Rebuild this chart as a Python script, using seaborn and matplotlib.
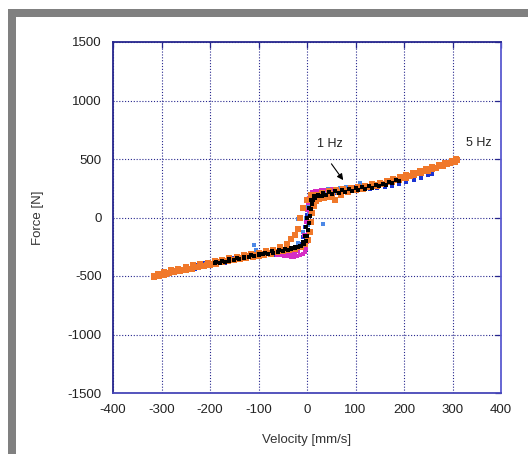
import numpy as np
import pandas as pd
import matplotlib
matplotlib.use('agg')
import matplotlib.pyplot as plt
import seaborn as sns
from matplotlib.patches import Rectangle
from matplotlib.ticker import MultipleLocator

# --- data: velocity [mm/s] and force [N] per test frequency

v_1hz = [-62, -55, -48, -41, -34, -27, -20, -14, -9, -5, -2, 0, 2, 4, 6, 8, 11, 15, 20, 26,
         32, 38, 44, 50, 56, 62, 58, 52, 46, 40, 34, 28, 22, 16, 11, 7, 4, 2, 0, -3,
         -7, -12, -18, -25, -32, -40, -48, -56]
f_1hz = [-318, -322, -326, -330, -334, -334, -330, -322, -310, -295, -265, -210, -130, -40, 50, 130, 185, 212, 224, 228,
         230, 232, 234, 236, 238, 242, 246, 242, 238, 236, 234, 232, 230, 226, 218, 200, 170, 120, 60, -40,
         -150, -240, -285, -300, -305, -308, -312, -316]

v_2hz = [-124, -112, -100, -88, -76, -64, -52, -40, -30, -20, -12, -6, -2, 2, 5, 8, 12, 18, 26, 36,
         48, 60, 72, 84, 96, 108, 120, 124, 116, 104, 92, 80, 68, 56, 44, 32, 22, 14, 8, 3,
         -2, -8, -18, -30, -45, -60, -75, -90, -106, -110, 34, -18, 110]
f_2hz = [-325, -318, -312, -305, -298, -292, -288, -282, -276, -268, -255, -225, -160, -60, 40, 110, 150, 178, 195, 208,
         215, 222, 230, 238, 246, 255, 264, 268, 276, 270, 264, 258, 252, 246, 240, 234, 224, 206, 170, 100,
         0, -120, -220, -262, -280, -288, -296, -305, -278, -235, -55, -15, 295]

v_3hz = [-190, -180, -170, -160, -150, -140, -130, -120, -110, -100, -90, -80, -70, -60, -50, -40, -32, -25, -18, -12,
         -7, -3, 0, 2, 4, 6, 8, 10, 13, 17, 22, 30, 40, 52, 65, 78, 92, 106, 120, 134,
         148, 162, 176, 190, 184, 170, 156, 142, 128, 114, 100, 86, 72, 58, 45, 32, 22, 14, 8, 4,
         1, -2, -5, -9, -15, -24, -34, -46, -58, -72, -86, -100, -115, -130, -145, -160, -175, -188]
f_3hz = [-392, -385, -378, -370, -362, -354, -346, -338, -330, -322, -315, -308, -300, -292, -284, -275, -266, -258, -250, -242,
         -228, -205, -160, -110, -50, 10, 70, 115, 150, 170, 180, 188, 196, 204, 212, 220, 228, 236, 246, 256,
         268, 280, 294, 308, 318, 304, 290, 278, 268, 258, 250, 242, 234, 226, 218, 208, 196, 182, 150, 80,
         0, -80, -160, -210, -240, -255, -264, -272, -280, -290, -300, -310, -322, -334, -346, -358, -372, -384]

v_4hz = [-250, -230, -210, -190, -170, -150, -130, -110, -90, -70, -55, -40, -28, -18, -10, -4, 0, 3, 6, 9,
         13, 19, 28, 40, 55, 70, 85, 100, 115, 130, 145, 160, 175, 190, 205, 220, 235, 250, 258,
         244, 228, 212, 196, 180, 164, 148, 132, 116, 100, 84, 68, 52, 38, 26, 16, 9, 4,
         0, -4, -9, -16, -26, -40, -56, -72, -90, -110, -130, -150, -170, -190, -210, -230, -248]
f_4hz = [-452, -436, -418, -402, -386, -370, -356, -342, -330, -318, -308, -300, -292, -280, -262, -225, -150, -60, 30, 100,
         150, 178, 196, 206, 212, 218, 224, 230, 236, 243, 250, 260, 272, 286, 302, 320, 340, 360, 375,
         398, 378, 358, 340, 322, 306, 292, 280, 268, 258, 250, 242, 234, 226, 214, 200, 170, 110,
         20, -80, -170, -230, -258, -275, -286, -296, -306, -318, -332, -346, -360, -376, -392, -410, -428]

v_5hz = [-315, -305, -295, -285, -275, -262, -250, -238, -225, -212, -200, -188, -175, -162, -150, -138, -125, -112, -100, -88,
         -75, -62, -50, -38, -25, -12, -4, 2, 6, 9, 11, 14, 18, 25, 35, 47, 58, 70, 85, 100,
         115, 130, 145, 160, 175, 190, 205, 220, 235, 250, 265, 280, 295, 305, 310,
         308, 298, 285, 272, 258, 245, 232, 218, 205, 192, 178, 165, 150, 135, 120, 105, 90, 75, 60,
         45, 30, 20, 8, 0, -8, -14, -18, -25, -32, -42, -55, -70, -85, -100, -115, -130, -145, -160,
         -175, -190, -205, -220, -235, -250, -265, -280, -295, -308, -315,
         -310, -300, -290, -280, -268, -256, -244, -232, -218, -206, -194, -182, -168, -156, -144, -132, -118, -106, -94, -82,
         -68, -56, -44, 52, 65, 78, 92, 108, 122, 138, 152, 168, 182, 198, 212, 228, 242, 258, 272, 288, 300]
f_5hz = [-505, -498, -488, -478, -470, -458, -447, -436, -425, -414, -404, -394, -384, -374, -364, -355, -345, -336, -326, -318,
         -308, -298, -290, -280, -268, -250, -230, -190, -120, -40, 40, 100, 140, 158, 165, 175, 150, 195, 215, 232,
         245, 258, 270, 290, 305, 322, 340, 360, 382, 400, 420, 442, 462, 478, 490,
         496, 483, 466, 450, 432, 414, 396, 378, 360, 344, 326, 312, 298, 284, 272, 262, 254, 245, 236,
         226, 212, 195, 190, 150, 80, 0, -100, -150, -185, -225, -255, -275, -290, -300, -312, -324, -335, -348,
         -360, -372, -386, -398, -410, -424, -438, -452, -468, -485, -498,
         -500, -490, -482, -470, -460, -448, -437, -427, -415, -404, -394, -384, -373, -363, -353, -343, -332, -322, -313, -305,
         -296, -288, -280, 200, 215, 228, 240, 252, 264, 276, 290, 305, 322, 340, 358, 378, 398, 418, 438, 458, 474]

# drawing order: first one ends up underneath
series = [
    ('4 Hz', v_4hz, f_4hz, '#1c34d2', 11),
    ('2 Hz', v_2hz, f_2hz, '#4c88e6', 10),
    ('1 Hz', v_1hz, f_1hz, '#d62cc4', 9),
    ('5 Hz', v_5hz, f_5hz, '#f0782a', 13),
    ('3 Hz', v_3hz, f_3hz, '#000000', 7),
]

navy = '#26268e'

sns.set_style('white')
plt.rcParams['font.family'] = ['Liberation Sans', 'DejaVu Sans']
plt.rcParams['axes.unicode_minus'] = False

fig = plt.figure(figsize=(5.28, 4.54), dpi=100)
ax = fig.add_axes([113 / 528, 61 / 454, 388 / 528, 351 / 454])

for name, v, f, col, sz in series:
    df = pd.DataFrame({'Velocity': v, 'Force': f})
    sns.scatterplot(data=df, x='Velocity', y='Force', color=col, marker='s',
                    s=sz, linewidth=0, ax=ax, zorder=3)

ax.set_xlim(-400, 400)
ax.set_ylim(-1500, 1500)
ax.xaxis.set_major_locator(MultipleLocator(100))
ax.yaxis.set_major_locator(MultipleLocator(500))

ax.set_axisbelow(True)
ax.grid(True, color=navy, linestyle=(0, (1, 1.6)), linewidth=0.8)
for side in ['top', 'bottom', 'left', 'right']:
    ax.spines[side].set_color(navy)
    ax.spines[side].set_linewidth(1.3)
ax.spines['right'].set_color('#5a5ad0')
ax.spines['bottom'].set_color('#4646b8')

ax.tick_params(which='both', direction='in', length=4, width=0.9, color=navy,
               top=True, right=True, labelsize=9.5, labelcolor='#222222', pad=8)

ax.set_xlabel('Velocity [mm/s]', fontsize=9.5, color='#333333', labelpad=13)
ax.set_ylabel('Force [N]', fontsize=9.5, color='#333333', labelpad=17)

# annotations
ax.text(48, 628, '1 Hz', fontsize=9, ha='center', va='center', color='#222222')
ax.annotate('', xy=(78, 300), xytext=(47, 478),
            arrowprops=dict(arrowstyle='-|>', color='black', lw=0.8, mutation_scale=9))
ax.text(355, 635, '5 Hz', fontsize=9, ha='center', va='center', color='#222222')

# grey frame round the picture (cut on the right and bottom)
fig.add_artist(Rectangle((8 / 528, 0), 8 / 528, 1 - 9 / 454, transform=fig.transFigure,
                         facecolor='#808080', edgecolor='none'))
fig.add_artist(Rectangle((8 / 528, 1 - 17 / 454), 1 - 8 / 528, 8 / 454, transform=fig.transFigure,
                         facecolor='#808080', edgecolor='none'))

plt.savefig('out.png', dpi=100)
